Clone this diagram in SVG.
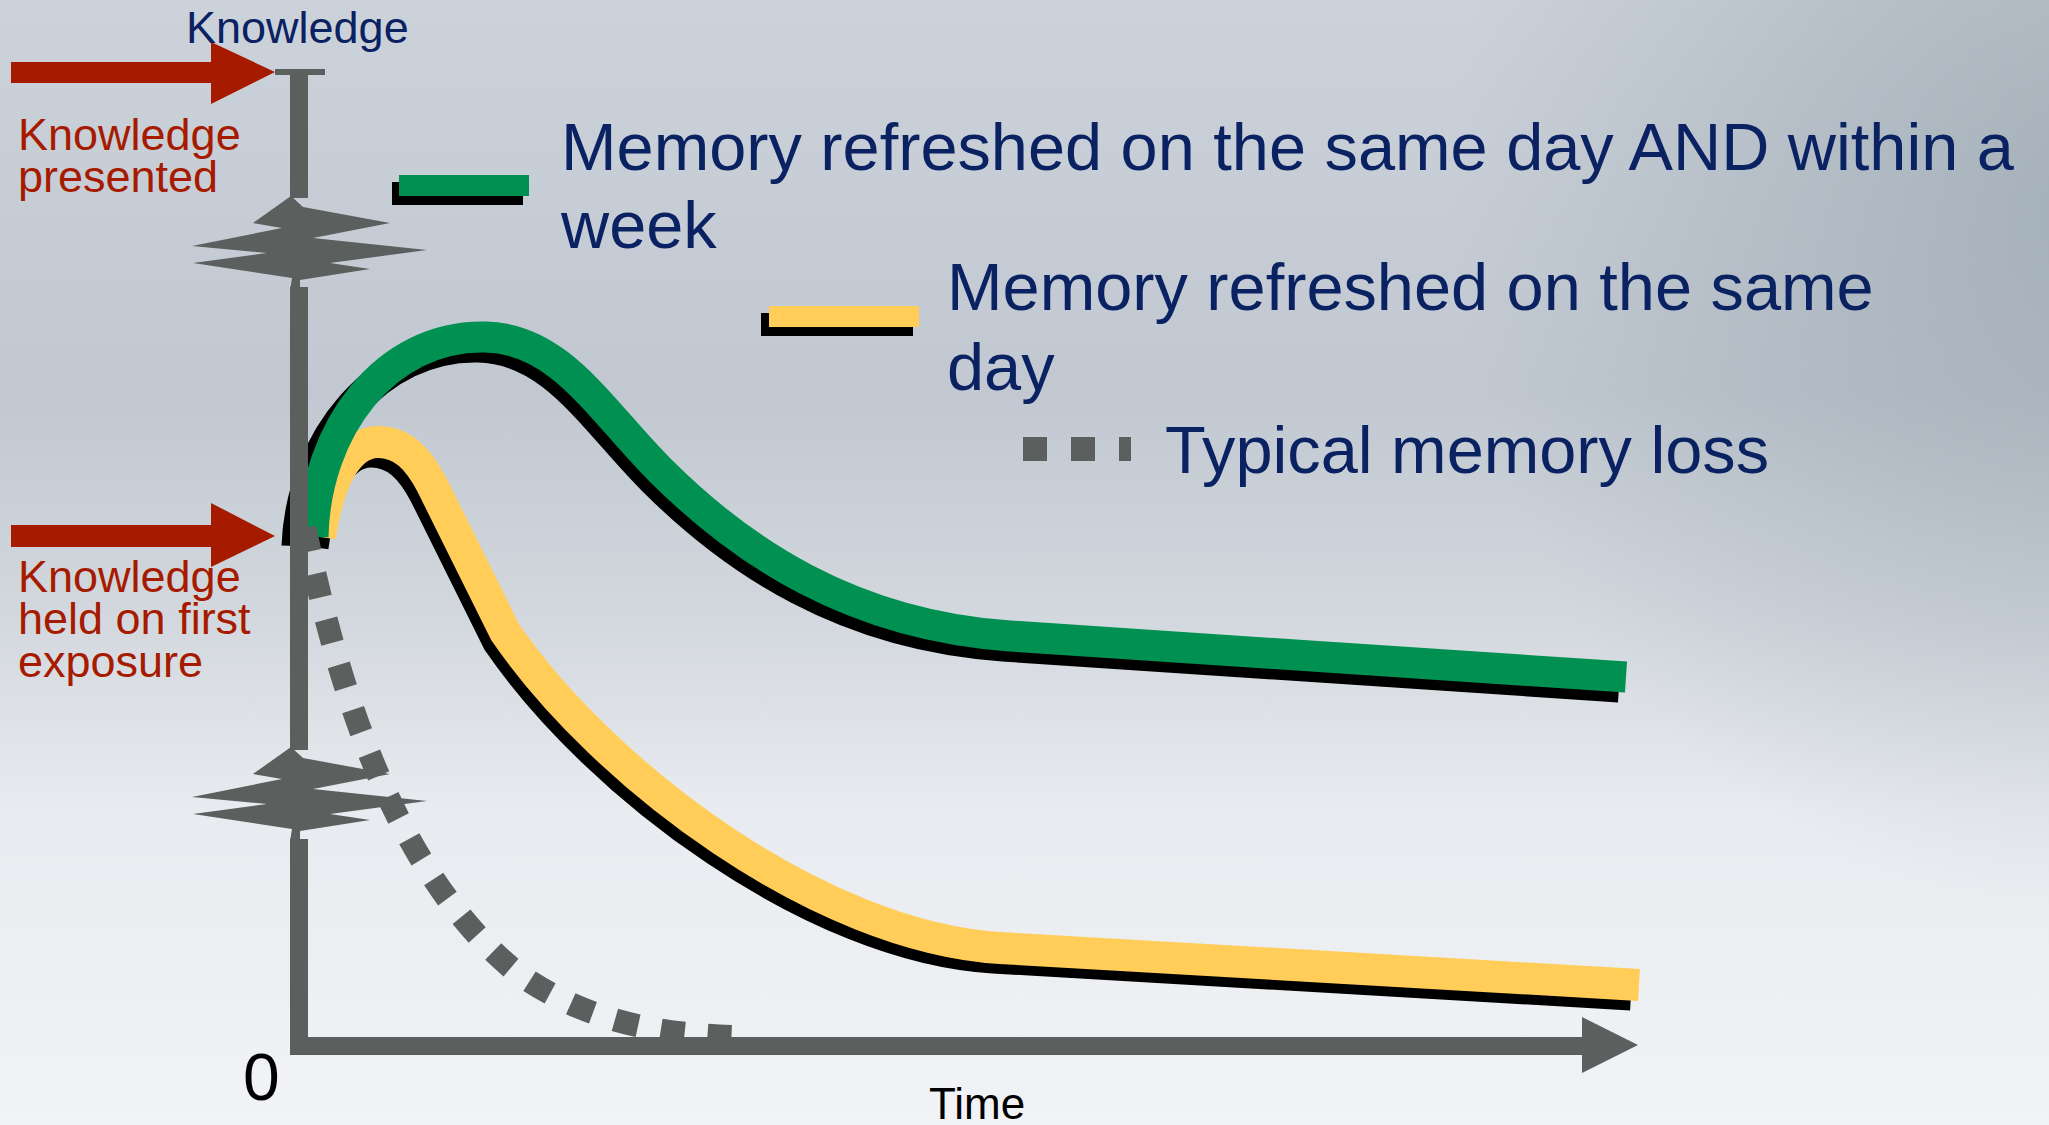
<svg xmlns="http://www.w3.org/2000/svg" xmlns:xlink="http://www.w3.org/1999/xlink" width="2049" height="1125" viewBox="0 0 2049 1125">
  <defs>
    <linearGradient id="bg" x1="0" y1="0" x2="0" y2="1">
      <stop offset="0" stop-color="#ccd2da"/>
      <stop offset="0.35" stop-color="#c1c8d1"/>
      <stop offset="0.55" stop-color="#d3d8de"/>
      <stop offset="0.72" stop-color="#e8ebef"/>
      <stop offset="1" stop-color="#f1f3f6"/>
    </linearGradient>
    <radialGradient id="rs" gradientUnits="userSpaceOnUse" cx="2100" cy="200" r="650" gradientTransform="translate(2100 200) scale(1 1.1) translate(-2100 -200)">
      <stop offset="0" stop-color="#8d9ca6" stop-opacity="0.6"/>
      <stop offset="1" stop-color="#8d9ca6" stop-opacity="0"/>
    </radialGradient>
    <polygon id="brk" points="291,196 303,207 390,223 313,238 427,250 330,263 370,269 300,280 300,290 290,290 292,278 193,263 267,253 192,246 282,228 253,223"/>
    <style>
      .txt { font-family: "Liberation Sans", Arial, sans-serif; }
      .navy { fill: #0a2262; }
      .red { fill: #a61b00; font-size: 45px; }
      .leg { font-size: 66.7px; }
      .axis { fill: #5b5f5e; }
      .shadow { fill: none; stroke: #000; stroke-width: 31; stroke-linejoin: round; }
      .green { fill: none; stroke: #009051; stroke-width: 31; stroke-linejoin: round; }
      .yellow { fill: none; stroke: #ffcd58; stroke-width: 32; stroke-linejoin: round; }
      .dots { fill: none; stroke: #5b5f5e; stroke-width: 23; stroke-dasharray: 24 23; }
      .arrowR { fill: #a61b00; }
    </style>
  </defs>

  <rect x="0" y="0" width="2049" height="1125" fill="url(#bg)"/>
  <rect x="0" y="0" width="2049" height="1125" fill="url(#rs)"/>

  <g id="connectors">
    <g id="curve-same-day">
      <path class="shadow" d="M313,547 C321,490 341,452 371,452 C395,452 411,468 425,495 L498,642 C598,787 813,947 993,958 L1631,995"/>
      <path class="yellow" d="M320,537 C328,480 348,442 378,442 C402,442 418,458 432,485 L505,632 C605,777 820,937 1000,948 L1639,985"/>
    </g>
    <g id="curve-week">
      <path class="shadow" d="M297,546 C301,440 378,345 478,347 C553,348 593,420 653,480 C733,560 843,635 1003,646 L1619,687"/>
      <path class="green" d="M313,537 C315,430 385,335 485,337 C560,338 600,410 660,470 C740,550 850,625 1010,636 L1626,677"/>
    </g>
    <path id="curve-typical" class="dots" d="M305,528 C340,700 400,880 520,975 C600,1030 680,1035 748,1037"/>
  </g>

  <g id="axes">
    <rect class="axis" x="275" y="69" width="50" height="6"/>
    <rect class="axis" x="290" y="72" width="18" height="126"/>
    <use xlink:href="#brk" class="axis"/>
    <rect class="axis" x="290" y="287" width="18" height="463"/>
    <use xlink:href="#brk" class="axis" transform="translate(0 551)"/>
    <rect class="axis" x="290" y="839" width="18" height="216"/>
    <rect class="axis" x="290" y="1037" width="1295" height="18"/>
    <polygon class="axis" points="1582,1017 1638,1045 1582,1073"/>
  </g>

  <g id="arrow-presented">
    <polygon class="arrowR" points="11,62 211,62 211,42 275,72 211,104 211,83 11,83"/>
  </g>
  <g id="arrow-first-exposure">
    <polygon class="arrowR" points="11,525 211,525 211,503 275,536 211,567 211,547 11,547"/>
  </g>

  <g id="label-knowledge">
    <text class="txt navy" x="186" y="43" font-size="45">Knowledge</text>
  </g>
  <g id="label-presented">
    <text class="txt red" x="18" y="150">Knowledge</text>
    <text class="txt red" x="18" y="192">presented</text>
  </g>
  <g id="label-first-exposure">
    <text class="txt red" x="18" y="592">Knowledge</text>
    <text class="txt red" x="18" y="634">held on first</text>
    <text class="txt red" x="18" y="677">exposure</text>
  </g>

  <g id="legend-week">
    <rect x="392" y="182" width="131" height="23" fill="#000"/>
    <rect x="399" y="175" width="130" height="21" fill="#009051"/>
    <text class="txt navy leg" x="561" y="170">Memory refreshed on the same day AND within a</text>
    <text class="txt navy leg" x="561" y="248">week</text>
  </g>
  <g id="legend-same-day">
    <rect x="761" y="313" width="152" height="23" fill="#000"/>
    <rect x="769" y="306" width="150" height="21" fill="#ffcd58"/>
    <text class="txt navy leg" x="947" y="310">Memory refreshed on the same</text>
    <text class="txt navy leg" x="947" y="390">day</text>
  </g>
  <g id="legend-typical">
    <line x1="1023" y1="449" x2="1131" y2="449" stroke="#5b5f5e" stroke-width="24" stroke-dasharray="24 24"/>
    <text class="txt navy leg" x="1165" y="473">Typical memory loss</text>
  </g>

  <g id="label-zero">
    <text class="txt" x="243" y="1100" font-size="66" fill="#000">0</text>
  </g>
  <g id="label-time">
    <text class="txt" x="929" y="1119" font-size="44" fill="#000">Time</text>
  </g>
</svg>
